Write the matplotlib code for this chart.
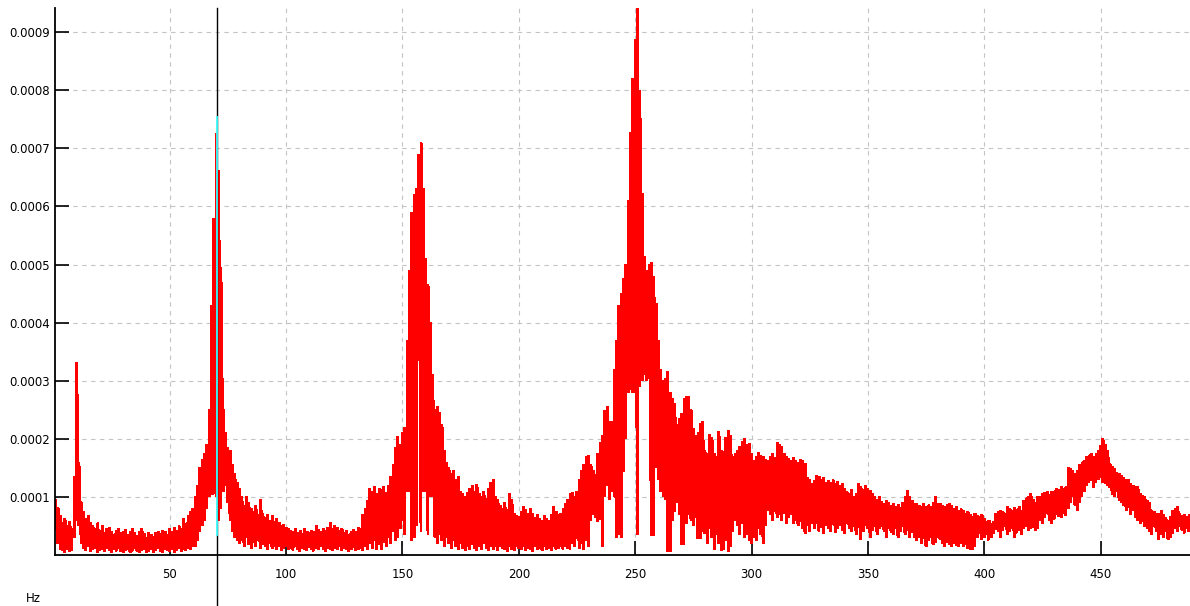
import numpy as np
import matplotlib
matplotlib.use("Agg")
import matplotlib.pyplot as plt
from matplotlib.ticker import FixedLocator, FuncFormatter

# ---------------- data (amplitude in units of 1e-4) ----------------
SCALE = 1e-4
FREQ_START = 1          # Hz, first bin
FREQ_STEP = 1           # Hz per bin

upper = [
    0.95,0.82,0.68,0.55,0.62,0.50,0.58,0.45,1.35,3.32,
    1.60,0.90,0.75,0.62,0.68,0.55,0.50,0.45,0.55,0.42,
    0.50,0.38,0.45,0.48,0.40,0.36,0.42,0.45,0.38,0.40,
    0.44,0.35,0.40,0.45,0.38,0.33,0.40,0.45,0.36,0.30,
    0.38,0.35,0.32,0.38,0.40,0.36,0.42,0.40,0.35,0.45,
    0.40,0.48,0.42,0.50,0.45,0.62,0.55,0.68,0.75,0.80,
    1.00,1.20,1.50,1.65,1.75,1.90,2.50,4.30,5.80,7.25,
    6.62,4.95,2.50,2.10,1.85,1.80,1.55,1.40,1.25,1.15,
    1.00,0.85,1.00,0.90,0.80,0.75,0.85,0.70,0.96,0.72,
    0.65,0.70,0.60,0.68,0.58,0.62,0.55,0.50,0.53,0.47,
    0.45,0.42,0.40,0.46,0.38,0.42,0.36,0.45,0.40,0.38,
    0.42,0.40,0.50,0.44,0.40,0.45,0.42,0.48,0.56,0.45,
    0.50,0.48,0.42,0.45,0.38,0.42,0.36,0.40,0.44,0.40,
    0.47,0.45,0.70,0.80,0.93,1.15,1.10,1.18,1.05,1.15,
    1.12,1.18,1.08,1.20,1.35,1.55,1.85,2.04,1.90,2.10,
    2.20,3.70,4.90,5.90,6.20,6.30,6.90,7.10,6.30,5.10,
    4.65,4.00,3.10,2.50,2.55,2.45,2.25,1.80,1.60,1.50,
    1.40,1.45,1.30,1.35,1.10,1.05,1.00,1.08,1.15,1.20,
    1.10,1.22,1.05,1.00,1.10,0.98,1.15,1.25,1.30,1.00,
    0.95,0.85,0.80,0.90,0.78,1.06,0.95,0.72,0.68,0.66,
    0.75,0.83,0.78,0.72,0.80,0.72,0.65,0.70,0.62,0.60,
    0.68,0.62,0.60,0.70,0.83,0.75,0.70,0.72,0.80,0.88,
    0.95,1.05,1.07,1.00,1.10,1.30,1.45,1.55,1.70,1.72,
    1.56,1.45,1.38,1.75,1.93,2.06,2.49,2.55,2.30,2.30,
    3.20,3.70,4.30,4.50,4.76,5.00,6.10,7.28,8.20,8.87,
    9.40,8.00,6.23,5.13,4.90,5.00,5.04,4.80,4.33,3.70,
    3.20,3.00,3.04,3.16,2.80,2.70,2.60,2.24,2.35,2.43,
    2.70,2.72,2.73,2.50,2.18,2.06,2.10,2.26,2.30,1.80,
    1.74,2.08,2.03,1.75,1.70,2.12,1.80,1.78,2.03,2.14,
    2.05,1.69,1.75,1.80,1.86,1.95,2.00,1.90,1.92,1.74,
    1.63,1.70,1.77,1.72,1.69,1.65,1.63,1.70,1.74,1.68,
    1.94,1.90,1.86,1.74,1.70,1.66,1.63,1.68,1.63,1.60,
    1.65,1.62,1.58,1.34,1.30,1.23,1.28,1.37,1.35,1.30,
    1.34,1.25,1.28,1.24,1.30,1.23,1.27,1.20,1.23,1.15,
    1.10,1.05,1.12,1.00,1.06,1.23,1.18,1.12,1.20,1.15,
    1.11,1.05,1.00,0.95,1.00,0.92,0.89,0.94,0.90,0.85,
    0.88,0.83,0.86,0.82,0.90,1.00,1.11,1.00,0.94,0.88,
    0.89,0.85,0.83,0.88,0.84,0.86,0.83,0.90,1.00,0.88,
    0.89,0.85,0.83,0.87,0.89,0.85,0.80,0.84,0.77,0.80,
    0.77,0.72,0.75,0.70,0.66,0.72,0.68,0.66,0.70,0.62,
    0.58,0.60,0.54,0.58,0.71,0.74,0.77,0.75,0.72,0.83,
    0.80,0.77,0.82,0.79,0.83,0.77,0.94,0.98,1.00,1.06,
    0.95,0.90,1.00,1.00,1.05,1.08,1.10,1.04,1.10,1.10,
    1.14,1.12,1.17,1.15,1.17,1.50,1.48,1.46,1.40,1.45,
    1.55,1.60,1.63,1.69,1.72,1.74,1.70,1.75,1.80,1.88,
    2.00,1.90,1.80,1.57,1.52,1.48,1.42,1.40,1.36,1.33,
    1.29,1.30,1.23,1.20,1.18,1.17,1.06,1.03,1.00,0.94,
    0.90,0.77,0.75,0.72,0.71,0.77,0.70,0.65,0.60,0.66,
    0.77,0.80,0.83,0.71,0.68,0.70,0.66,0.68,
]

lower = [
    0.45,0.20,0.10,0.08,0.05,0.10,0.06,0.08,0.30,0.60,
    0.50,0.20,0.12,0.08,0.15,0.06,0.10,0.12,0.05,0.08,
    0.10,0.06,0.12,0.08,0.05,0.10,0.07,0.12,0.06,0.05,
    0.08,0.10,0.05,0.07,0.12,0.06,0.04,0.08,0.10,0.05,
    0.06,0.10,0.05,0.08,0.12,0.06,0.05,0.10,0.08,0.06,
    0.10,0.05,0.08,0.12,0.06,0.10,0.08,0.12,0.10,0.15,
    0.15,0.25,0.40,0.50,0.60,0.80,1.00,1.05,1.05,1.00,
    0.60,0.80,1.10,1.20,0.90,0.60,0.40,0.30,0.25,0.20,
    0.25,0.15,0.30,0.18,0.12,0.22,0.15,0.25,0.12,0.18,
    0.15,0.10,0.20,0.12,0.15,0.10,0.14,0.08,0.12,0.15,
    0.10,0.12,0.08,0.14,0.10,0.06,0.12,0.10,0.08,0.13,
    0.10,0.07,0.12,0.09,0.14,0.10,0.06,0.12,0.10,0.08,
    0.12,0.10,0.14,0.08,0.12,0.10,0.06,0.10,0.13,0.08,
    0.10,0.12,0.08,0.15,0.10,0.20,0.12,0.25,0.10,0.18,
    0.09,0.22,0.15,0.30,0.20,0.40,0.25,0.30,0.45,0.60,
    0.35,1.10,1.10,0.25,0.30,0.50,3.80,0.40,1.10,1.10,
    0.35,1.00,1.00,0.30,0.20,0.35,0.25,0.15,0.30,0.20,
    0.12,0.25,0.15,0.10,0.20,0.12,0.08,0.15,0.10,0.18,
    0.12,0.08,0.15,0.10,0.20,0.12,0.08,0.15,0.10,0.14,
    0.08,0.15,0.12,0.10,0.06,0.14,0.10,0.08,0.15,0.12,
    0.10,0.15,0.08,0.12,0.10,0.06,0.14,0.10,0.12,0.08,
    0.15,0.10,0.12,0.08,0.14,0.10,0.12,0.15,0.10,0.14,
    0.12,0.10,0.20,0.15,0.28,0.12,0.20,0.10,0.25,0.15,
    0.60,0.70,0.65,0.58,0.62,0.15,1.00,1.20,0.95,1.10,
    1.00,0.30,0.35,0.30,1.44,2.00,2.80,2.85,2.80,2.80,
    0.35,2.90,3.00,3.10,3.00,3.04,0.34,0.34,1.50,1.30,
    1.10,1.00,0.95,0.06,0.06,0.60,0.75,0.90,0.70,0.18,
    0.18,0.55,0.70,0.60,0.50,0.65,0.28,0.28,0.40,0.37,
    0.20,0.45,0.30,0.10,0.35,0.20,0.08,0.10,0.25,0.06,
    0.15,0.40,0.60,0.50,0.35,0.55,0.30,0.35,0.25,0.20,
    0.30,0.25,0.45,0.35,0.20,0.50,0.77,0.70,0.60,0.75,
    0.65,0.70,0.60,0.72,0.55,0.65,0.70,0.54,0.60,0.50,
    0.58,0.45,0.37,0.50,0.40,0.55,0.45,0.54,0.40,0.48,
    0.37,0.50,0.45,0.40,0.52,0.38,0.45,0.50,0.42,0.37,
    0.54,0.45,0.40,0.50,0.35,0.48,0.26,0.40,0.50,0.45,
    0.30,0.42,0.50,0.35,0.45,0.49,0.40,0.31,0.45,0.38,
    0.35,0.45,0.30,0.40,0.49,0.35,0.42,0.31,0.38,0.31,
    0.25,0.31,0.20,0.28,0.14,0.25,0.30,0.18,0.22,0.31,
    0.26,0.20,0.14,0.22,0.18,0.14,0.20,0.16,0.15,0.20,
    0.14,0.18,0.12,0.09,0.10,0.14,0.30,0.37,0.26,0.30,
    0.35,0.26,0.30,0.37,0.45,0.40,0.31,0.42,0.49,0.35,
    0.40,0.45,0.31,0.38,0.42,0.36,0.45,0.49,0.43,0.45,
    0.48,0.43,0.46,0.60,0.55,0.65,0.71,0.60,0.54,0.62,
    0.70,0.66,0.65,0.71,0.68,0.80,0.90,1.00,0.85,0.77,
    0.90,1.00,1.10,1.20,1.25,1.29,1.17,1.25,1.30,1.34,
    1.25,1.23,1.20,1.17,1.05,1.00,1.10,0.94,0.90,0.85,
    0.77,0.82,0.70,0.77,0.65,0.60,0.54,0.58,0.50,0.45,
    0.40,0.35,0.49,0.40,0.26,0.35,0.30,0.40,0.26,0.30,
    0.37,0.45,0.40,0.49,0.42,0.38,0.45,0.40,
]

# cursor (marker line) read-out
CURSOR_HZ = 70.3
CURSOR_LOW = 0.35
CURSOR_PEAK = 7.54

x_ticks = [50, 100, 150, 200, 250, 300, 350, 400, 450]
y_ticks = [1, 2, 3, 4, 5, 6, 7, 8, 9]
X_LIM = (0.73, 488.4)
Y_LIM = (0.0, 9.415)
x_label = "Hz"

# ---------------- figure ----------------
n = min(len(upper), len(lower))
freq = FREQ_START + FREQ_STEP * np.arange(n)
up = np.array(upper[:n]) * SCALE
lo = np.array(lower[:n]) * SCALE

# dense trace: each bin drawn as a vertical stroke low->high, strokes joined
trace_x = np.repeat(freq, 2)
trace_y = np.empty(2 * n)
trace_y[0::2] = lo
trace_y[1::2] = up

fig = plt.figure(figsize=(11.90, 6.06), dpi=100)
fig.patch.set_facecolor("white")
ax = fig.add_axes([55 / 1190, 51 / 606, 1135 / 1190, 547 / 606])

ax.plot(trace_x, trace_y, color="#ff0000", lw=1.4, zorder=2,
        solid_joinstyle="miter", antialiased=False)

# cursor line (black, crossing the whole plot and below), cyan part at peak
ax.plot([CURSOR_HZ, CURSOR_HZ], [-0.1, 1.0], transform=ax.get_xaxis_transform(),
        color="black", lw=1.0, zorder=3, clip_on=False)
ax.plot([CURSOR_HZ, CURSOR_HZ], [CURSOR_LOW * SCALE, CURSOR_PEAK * SCALE],
        color="#40ffff", lw=1.3, zorder=4)

ax.set_xlim(*X_LIM)
ax.set_ylim(Y_LIM[0] * SCALE, Y_LIM[1] * SCALE)

ax.xaxis.set_major_locator(FixedLocator(x_ticks))
ax.yaxis.set_major_locator(FixedLocator([v * SCALE for v in y_ticks]))
ax.yaxis.set_major_formatter(FuncFormatter(lambda v, p: f"{v:.4f}"))
ax.xaxis.set_major_formatter(FuncFormatter(lambda v, p: f"{v:g}"))

ax.tick_params(axis="both", direction="in", length=10, width=1.2, color="black",
               labelsize=8.5, labelcolor="black")
ax.tick_params(axis="x", pad=9)
ax.tick_params(axis="y", pad=3.5)

for s in ["top", "right"]:
    ax.spines[s].set_visible(False)
for s in ["left", "bottom"]:
    ax.spines[s].set_linewidth(1.3)
    ax.spines[s].set_color("black")

ax.set_axisbelow(True)
ax.grid(True, color="#c4c4c4", lw=0.8, linestyle=(0, (4, 4)))

ax.text(-0.019, -0.079, x_label, transform=ax.transAxes, ha="center", va="center",
        fontsize=8.5, color="black")

fig.savefig("out.png", dpi=100)
